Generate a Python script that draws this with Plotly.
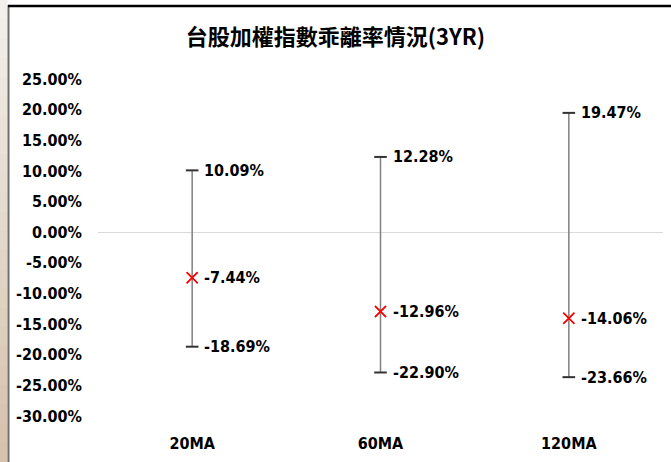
import plotly.graph_objects as go

categories = ["20MA", "60MA", "120MA"]
max_vals = [10.09, 12.28, 19.47]
current_vals = [-7.44, -12.96, -14.06]
min_vals = [-18.69, -22.90, -23.66]
y_ticks = [25, 20, 15, 10, 5, 0, -5, -10, -15, -20, -25, -30]
title_text = "台股加權指數乖離率情況(3YR)"

W, H = 671, 462
L, R, T, B = 98, 8, 79, 46
PW, PH = W - L - R, H - T - B


def px_x(p):
    return (p - L) / PW


def px_y(p):
    return (H - B - p) / PH


LAT = "DejaVu Sans Condensed, Liberation Sans Narrow, sans-serif"
lab_font = dict(family=LAT, size=16, color="#000000", weight="bold")

fig = go.Figure()

# range bars (min..max) drawn as error bars around current value
fig.add_trace(go.Scatter(
    x=categories, y=current_vals, mode="markers",
    marker=dict(symbol="x-thin", size=11, color="#ff0000",
                line=dict(color="#ff0000", width=1.5)),
    error_y=dict(type="data", symmetric=False,
                 array=[mx - c for mx, c in zip(max_vals, current_vals)],
                 arrayminus=[c - mn for mn, c in zip(min_vals, current_vals)],
                 color="#808080", thickness=1.5, width=0),
    showlegend=False, hoverinfo="skip",
))
# caps
fig.add_trace(go.Scatter(
    x=categories * 2, y=max_vals + min_vals, mode="markers",
    marker=dict(symbol="line-ew", size=9, color="#333333",
                line=dict(color="#333333", width=2)),
    showlegend=False, hoverinfo="skip",
))
# re-draw current marker on top
fig.add_trace(go.Scatter(
    x=categories, y=current_vals, mode="markers",
    marker=dict(symbol="x-thin", size=11, color="#ff0000",
                line=dict(color="#ff0000", width=1.5)),
    showlegend=False, hoverinfo="skip",
))

annotations = []
for cat, mx, cur, mn in zip(categories, max_vals, current_vals, min_vals):
    for v in (mx, cur, mn):
        annotations.append(dict(
            x=cat, y=v, xref="x", yref="y", text=f"{v:.2f}%",
            showarrow=False, xanchor="left", yanchor="middle", xshift=10,
            font=lab_font,
        ))

shapes = []
# left beige gradient strip
n = 24
c0 = (243, 239, 234)
c1 = (214, 194, 172)
for i in range(n):
    t = i / (n - 1)
    col = "rgb({},{},{})".format(*[int(a + (b - a) * t) for a, b in zip(c0, c1)])
    shapes.append(dict(type="rect", xref="paper", yref="paper",
                       x0=px_x(0), x1=px_x(7.5),
                       y0=px_y(H * (i + 1) / n + 1), y1=px_y(H * i / n),
                       fillcolor=col, line=dict(width=0), layer="below"))
# borders
shapes.append(dict(type="line", xref="paper", yref="paper",
                   x0=px_x(8.5), x1=px_x(8.5), y0=px_y(5), y1=px_y(H + 2),
                   line=dict(color="#6e6e6e", width=2)))
shapes.append(dict(type="line", xref="paper", yref="paper",
                   x0=px_x(8), x1=px_x(W + 2), y0=px_y(6), y1=px_y(6),
                   line=dict(color="#000000", width=2.5)))

fig.update_layout(
    width=W, height=H,
    margin=dict(l=L, r=R, t=T, b=B, autoexpand=False),
    paper_bgcolor="#ffffff", plot_bgcolor="#ffffff",
    title=dict(text=title_text, x=0.5, xref="container", xanchor="center",
               y=1 - 37 / H, yref="container", yanchor="middle",
               font=dict(family="Noto Sans CJK TC, sans-serif", size=22,
                         color="#000000", weight="bold")),
    xaxis=dict(type="category", categoryorder="array", categoryarray=categories,
               range=[-0.5, 2.5], showgrid=False, zeroline=False, showline=False,
               ticks="", tickfont=lab_font, ticklabelstandoff=16, fixedrange=True,
               automargin=False),
    yaxis=dict(range=[-30, 25], tickvals=y_ticks,
               ticktext=[f"{v:.2f}%" for v in y_ticks],
               showgrid=False, zeroline=True, zerolinecolor="#d9d9d9", zerolinewidth=1,
               showline=False, ticks="", tickfont=lab_font, ticklabelstandoff=15,
               fixedrange=True, automargin=False),
    annotations=annotations,
    shapes=shapes,
    showlegend=False,
)

fig.write_html("out.html", config={"displayModeBar": False},
               post_script="document.body.style.margin='0';document.body.style.overflow='hidden';")
